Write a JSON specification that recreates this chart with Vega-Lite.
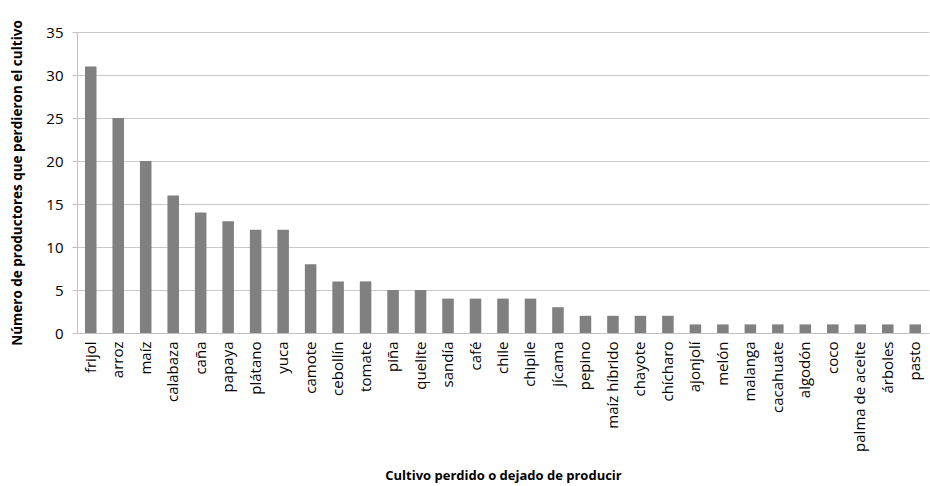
{
  "$schema": "https://vega.github.io/schema/vega-lite/v6.json",
  "autosize": {"type": "none"},
  "padding": {"left": 77, "top": 32, "right": 1, "bottom": 153},
  "width": 852,
  "height": 301,
  "background": "white",
  "config": {
    "font": "Open Sans",
    "view": {"stroke": null},
    "axis": {
      "labelFont": "Open Sans",
      "titleFont": "Open Sans",
      "labelColor": "#000000",
      "titleColor": "#000000",
      "domainColor": "#c0c0c0",
      "gridColor": "#c8c8c8",
      "tickColor": "#c0c0c0"
    }
  },
  "data": {
    "values": [
      {"cultivo": "frijol", "n": 31},
      {"cultivo": "arroz", "n": 25},
      {"cultivo": "maíz", "n": 20},
      {"cultivo": "calabaza", "n": 16},
      {"cultivo": "caña", "n": 14},
      {"cultivo": "papaya", "n": 13},
      {"cultivo": "plátano", "n": 12},
      {"cultivo": "yuca", "n": 12},
      {"cultivo": "camote", "n": 8},
      {"cultivo": "cebollín", "n": 6},
      {"cultivo": "tomate", "n": 6},
      {"cultivo": "piña", "n": 5},
      {"cultivo": "quelite", "n": 5},
      {"cultivo": "sandía", "n": 4},
      {"cultivo": "café", "n": 4},
      {"cultivo": "chile", "n": 4},
      {"cultivo": "chipile", "n": 4},
      {"cultivo": "jícama", "n": 3},
      {"cultivo": "pepino", "n": 2},
      {"cultivo": "maíz híbrido", "n": 2},
      {"cultivo": "chayote", "n": 2},
      {"cultivo": "chícharo", "n": 2},
      {"cultivo": "ajonjolí", "n": 1},
      {"cultivo": "melón", "n": 1},
      {"cultivo": "malanga", "n": 1},
      {"cultivo": "cacahuate", "n": 1},
      {"cultivo": "algodón", "n": 1},
      {"cultivo": "coco", "n": 1},
      {"cultivo": "palma de aceite", "n": 1},
      {"cultivo": "árboles", "n": 1},
      {"cultivo": "pasto", "n": 1}
    ]
  },
  "mark": {"type": "bar", "color": "#808080"},
  "encoding": {
    "x": {
      "field": "cultivo",
      "type": "nominal",
      "sort": null,
      "scale": {"paddingInner": 0.58, "paddingOuter": 0.29},
      "title": "Cultivo perdido o dejado de producir",
      "axis": {
        "labelAngle": -90,
        "labelFontSize": 15,
        "labelPadding": 8,
        "ticks": false,
        "titleFontSize": 13,
        "titleFontWeight": "bold",
        "titleY": 136,
        "titleBaseline": "top"
      }
    },
    "y": {
      "field": "n",
      "type": "quantitative",
      "scale": {"domain": [0, 35]},
      "title": "Número de productores que perdieron el cultivo",
      "axis": {
        "values": [0, 5, 10, 15, 20, 25, 30, 35],
        "labelFontSize": 15,
        "labelPadding": 9,
        "tickSize": 5,
        "grid": true,
        "domain": true,
        "titleFontSize": 13.5,
        "titleFontWeight": "bold",
        "titlePadding": 21
      }
    }
  }
}
